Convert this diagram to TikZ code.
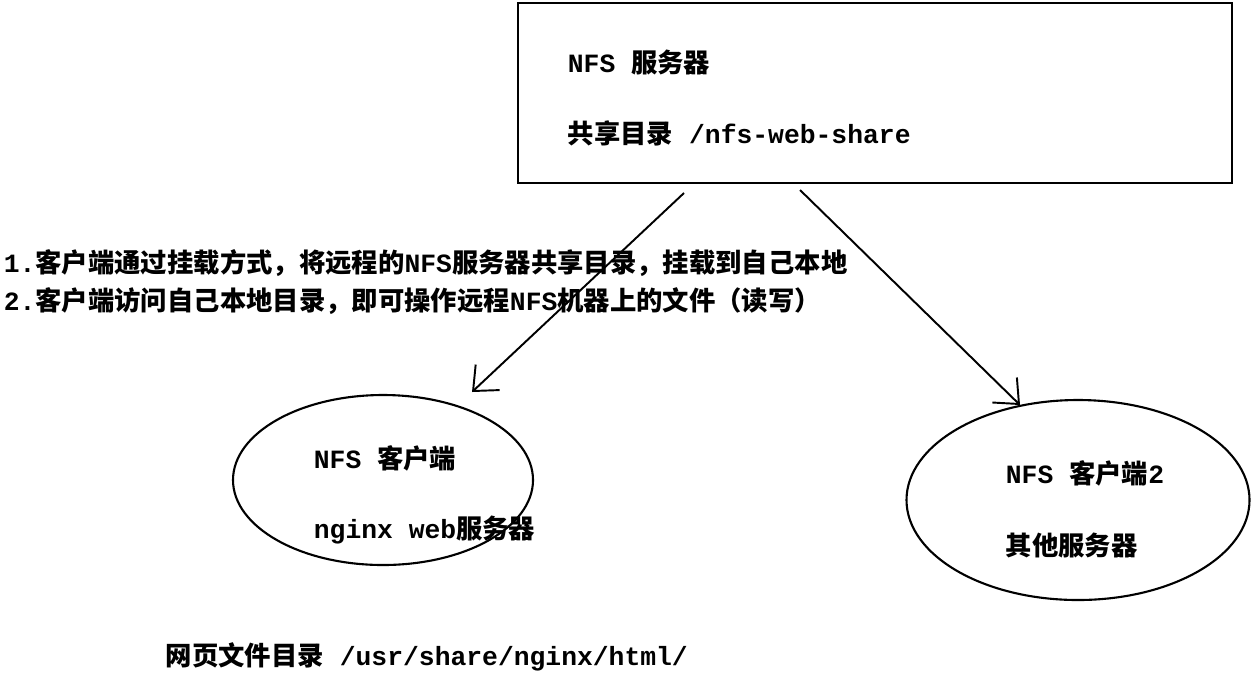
\documentclass[tikz,border=0pt]{standalone}
\usepackage{fontspec}
\setmainfont{Liberation Mono}
\newfontfamily\cjk{Noto Sans CJK SC}
\usetikzlibrary{shapes.geometric,arrows.meta}
\begin{document}
\begin{tikzpicture}[
		%Global config
		>={Straight Barb[length=4mm,width=7mm]},
		line width=1pt,
		color = black,
		font=\fontsize{15}{18}\selectfont\bfseries,
		%Styles
		label/.style={anchor=west, inner sep=0pt},
		client/.style={draw, ellipse, line width=1.2pt},
		link/.style={->, line width=1.1pt}
		]
		\useasboundingbox (0,0) rectangle (25.04,-13.44);

		\node[draw, line width=1.2pt, minimum width=14.28cm, minimum height=3.6cm] (server) at (17.5,-1.86) {};
		\node[label] (serverA) at (11.34,-1.24) {NFS {\cjk 服务器}};
		\node[label] (serverB) at (11.34,-2.66) {{\cjk 共享目录} /nfs-web-share};

		\node[client, minimum width=6cm, minimum height=3.4cm] (web) at (7.66,-9.6) {};
		\node[label] (webA) at (6.26,-9.16) {NFS {\cjk 客户端}};
		\node[label] (webB) at (6.26,-10.6) {nginx web{\cjk 服务器}};

		\node[client, minimum width=6.86cm, minimum height=4cm] (other) at (21.56,-10) {};
		\node[label] (otherA) at (20.1,-9.46) {NFS {\cjk 客户端}2};
		\node[label] (otherB) at (20.1,-10.9) {{\cjk 其他服务器}};

		\coordinate (outL) at (13.68,-3.86);
		\coordinate (outR) at (16.0,-3.8);
		\coordinate (inL) at (9.44,-7.84);
		\coordinate (inR) at (20.4,-8.1);
		\draw[link] (outL) -- (inL);
		\draw[link] (outR) -- (inR);

		\node[label] (noteA) at (0.06,-5.26) {1.{\cjk 客户端通过挂载方式，将远程的}NFS{\cjk 服务器共享目录，挂载到自己本地}};
		\node[label] (noteB) at (0.06,-6.02) {2.{\cjk 客户端访问自己本地目录，即可操作远程}NFS{\cjk 机器上的文件（读写）}};
		\node[label] (html) at (3.3,-13.14) {{\cjk 网页文件目录} /usr/share/nginx/html/};
	\end{tikzpicture}
\end{document}
